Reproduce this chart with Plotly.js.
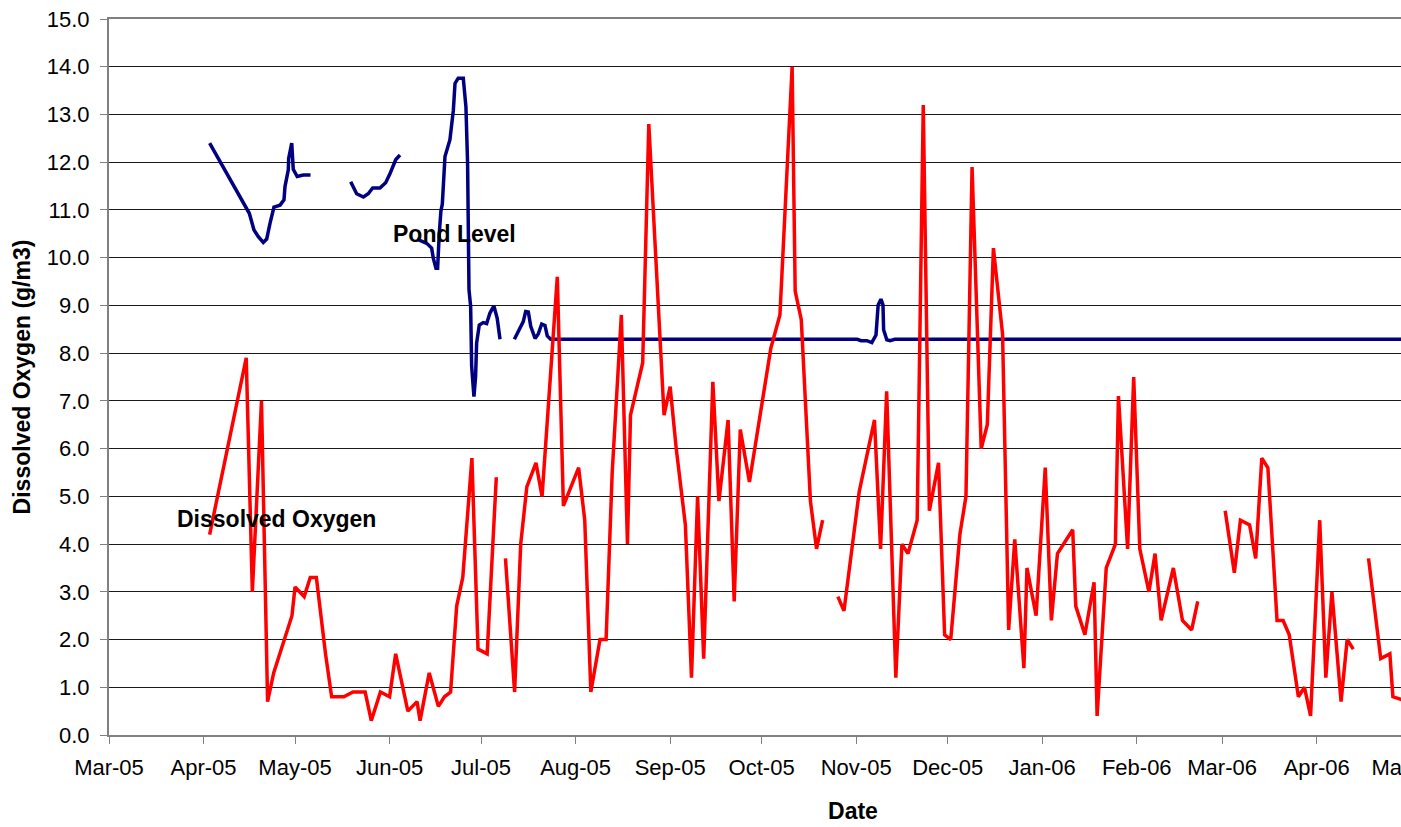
<!DOCTYPE html>
<html>
<head>
<meta charset="utf-8">
<script src="https://cdn.plot.ly/plotly-3.0.1.min.js"></script>
<style>
html, body { margin:0; padding:0; overflow:hidden; background:#fff; }
#chart { width:1620px; height:827px; }
</style>
</head>
<body>
<div id="chart"></div>
<script>
// Dissolved oxygen (g/m3) — null marks a break in the record
const doDates = [
'2005-04-03','2005-04-15','2005-04-17','2005-04-20','2005-04-22','2005-04-24','2005-04-30','2005-05-01','2005-05-04','2005-05-06','2005-05-08','2005-05-11','2005-05-13','2005-05-17','2005-05-20','2005-05-24','2005-05-26','2005-05-29','2005-06-01','2005-06-03','2005-06-07','2005-06-10','2005-06-11','2005-06-14','2005-06-17','2005-06-19','2005-06-21','2005-06-23','2005-06-25','2005-06-28','2005-06-30','2005-07-03','2005-07-06',
'2005-07-07',
'2005-07-09','2005-07-12','2005-07-14','2005-07-16','2005-07-19','2005-07-21','2005-07-26','2005-07-28','2005-08-02','2005-08-04','2005-08-06','2005-08-09','2005-08-11','2005-08-13','2005-08-16','2005-08-18','2005-08-19','2005-08-23','2005-08-25','2005-08-30','2005-09-01','2005-09-03','2005-09-06','2005-09-08','2005-09-10','2005-09-12','2005-09-15','2005-09-17','2005-09-20','2005-09-22','2005-09-24','2005-09-27','2005-09-29','2005-10-04','2005-10-07','2005-10-11','2005-10-12','2005-10-14','2005-10-17','2005-10-19','2005-10-21',
'2005-10-23',
'2005-10-26','2005-10-28','2005-11-02','2005-11-07','2005-11-09','2005-11-11','2005-11-14','2005-11-16','2005-11-18','2005-11-21','2005-11-23','2005-11-25','2005-11-28','2005-11-30','2005-12-02','2005-12-05','2005-12-07','2005-12-09','2005-12-12','2005-12-14','2005-12-16','2005-12-19','2005-12-21','2005-12-23','2005-12-26','2005-12-27','2005-12-30','2006-01-02','2006-01-04','2006-01-06','2006-01-11','2006-01-12','2006-01-15','2006-01-18','2006-01-19','2006-01-22','2006-01-25','2006-01-26','2006-01-29','2006-01-31','2006-02-02','2006-02-05','2006-02-07','2006-02-09','2006-02-13','2006-02-14','2006-02-16','2006-02-19','2006-02-21',
'2006-02-25',
'2006-03-02','2006-03-05','2006-03-07','2006-03-10','2006-03-12','2006-03-14','2006-03-16','2006-03-19','2006-03-21','2006-03-23','2006-03-26','2006-03-28','2006-03-30','2006-04-02','2006-04-04','2006-04-06','2006-04-09','2006-04-11','2006-04-13',
'2006-04-15',
'2006-04-18','2006-04-22','2006-04-25','2006-04-26','2006-04-30'
];
const doValues = [
4.2,7.9,3.0,7.0,0.7,1.3,2.5,3.1,2.9,3.3,3.3,1.7,0.8,0.8,0.9,0.9,0.3,0.9,0.8,1.7,0.5,0.7,0.3,1.3,0.6,0.8,0.9,2.7,3.3,5.8,1.8,1.7,5.4,
null,
3.7,0.9,4.0,5.2,5.7,5.0,9.6,4.8,5.6,4.5,0.9,2.0,2.0,5.5,8.8,4.0,6.7,7.8,12.8,6.7,7.3,6.0,4.4,1.2,5.0,1.6,7.4,4.9,6.6,2.8,6.4,5.3,6.1,8.1,8.8,14.0,9.3,8.7,4.9,3.9,4.5,
null,
2.9,2.6,5.1,6.6,3.9,7.2,1.2,4.0,3.8,4.5,13.2,4.7,5.7,2.1,2.0,4.2,5.0,11.9,6.0,6.5,10.2,8.4,2.2,4.1,1.4,3.5,2.5,5.6,2.4,3.8,4.3,2.7,2.1,3.2,0.4,3.5,4.0,7.1,3.9,7.5,3.9,3.0,3.8,2.4,3.5,3.1,2.4,2.2,2.8,
null,
4.7,3.4,4.5,4.4,3.7,5.8,5.6,2.4,2.4,2.1,0.8,1.0,0.4,4.5,1.2,3.0,0.7,2.0,1.8,
null,
3.7,1.6,1.7,0.8,0.72
];

// Pond level (plotted on the same scale)
const levelDates = [
'2005-04-03 00:00','2005-04-15 04:00','2005-04-16 00:00','2005-04-17 13:00','2005-04-18 23:00','2005-04-20 14:00','2005-04-21 17:00','2005-04-22 19:00','2005-04-24 02:00','2005-04-26 02:00','2005-04-27 09:00','2005-04-27 17:00','2005-04-28 19:00','2005-04-28 22:00','2005-04-29 22:00','2005-04-30 10:00','2005-05-01 17:00','2005-05-03 17:00','2005-05-06 02:00',
'2005-05-12 00:00',
'2005-05-19 06:00','2005-05-21 05:00','2005-05-23 10:00','2005-05-25 00:00','2005-05-26 11:00','2005-05-28 20:00','2005-05-30 17:00','2005-06-01 02:00','2005-06-03 00:00','2005-06-04 10:00',
'2005-06-07 00:00',
'2005-06-10 00:00','2005-06-13 05:00','2005-06-14 19:00','2005-06-15 08:00','2005-06-16 05:00','2005-06-16 18:00','2005-06-17 07:00','2005-06-17 20:00','2005-06-18 07:00','2005-06-18 14:00','2005-06-19 04:00','2005-06-20 19:00','2005-06-21 22:00','2005-06-22 11:00','2005-06-23 12:00','2005-06-25 04:00','2005-06-26 01:00','2005-06-26 14:00','2005-06-27 01:00','2005-06-27 14:00','2005-06-27 22:00','2005-06-28 16:00','2005-06-29 05:00','2005-06-29 13:00','2005-06-30 10:00','2005-07-01 17:00','2005-07-02 20:00','2005-07-03 22:00','2005-07-05 05:00','2005-07-06 07:00','2005-07-07 05:00',
'2005-07-09 12:00',
'2005-07-11 22:00','2005-07-14 20:00','2005-07-15 15:00','2005-07-16 12:00','2005-07-17 07:00','2005-07-18 17:00','2005-07-19 18:00','2005-07-20 21:00','2005-07-21 23:00','2005-07-22 17:00','2005-07-23 20:00','2005-11-01 08:00','2005-11-02 15:00','2005-11-04 12:00','2005-11-06 03:00','2005-11-07 12:00','2005-11-08 05:00','2005-11-09 03:00','2005-11-09 19:00','2005-11-10 00:00','2005-11-11 01:00','2005-11-12 03:00','2005-11-13 16:00','2006-05-01 00:00'
];
const levelValues = [
12.40,11.04,10.93,10.58,10.44,10.32,10.39,10.72,11.06,11.10,11.21,11.49,11.84,12.08,12.40,11.85,11.70,11.73,11.73,
null,
11.59,11.34,11.27,11.34,11.46,11.46,11.57,11.75,12.05,12.15,
null,
10.39,10.30,10.20,9.99,9.78,9.78,10.50,10.98,11.12,11.49,12.12,12.47,13.09,13.65,13.76,13.76,13.16,11.98,9.33,8.98,7.72,7.09,7.51,8.21,8.59,8.64,8.62,8.84,8.99,8.73,8.29,
null,
8.29,8.66,8.87,8.86,8.56,8.31,8.40,8.61,8.58,8.36,8.29,8.29,8.26,8.26,8.22,8.38,9.01,9.13,9.01,8.49,8.28,8.26,8.29,8.29
];

const FONT = '"Liberation Sans", Arial, sans-serif';

const traces = [
  { x: levelDates, y: levelValues, type: 'scatter', mode: 'lines', name: 'Pond Level',
    connectgaps: false, line: { color: '#000080', width: 3.5 } },
  { x: doDates, y: doValues, type: 'scatter', mode: 'lines', name: 'Dissolved Oxygen',
    connectgaps: false, line: { color: '#FF0000', width: 3.5 } }
];

const layout = {
  width: 1620, height: 827,
  margin: { l: 109, r: 23, t: 19, b: 91.5 },
  paper_bgcolor: '#ffffff', plot_bgcolor: '#ffffff',
  showlegend: false,
  font: { family: FONT, size: 22, color: '#000' },
  xaxis: {
    type: 'date',
    range: ['2005-03-01', '2006-07-01 22:00'],
    tick0: '2005-03-01', dtick: 'M1', tickformat: '%b-%y',
    ticks: 'outside', ticklen: 7, tickwidth: 1, tickcolor: '#808080',
    showgrid: false, zeroline: false,
    showline: true, linecolor: '#808080', linewidth: 2, mirror: true,
    tickfont: { family: FONT, size: 22, color: '#000' },
    ticklabelstandoff: 5,
    title: { text: 'Date', font: { family: FONT, size: 23, color: '#000', weight: 'bold' }, standoff: 23 }
  },
  yaxis: {
    range: [0, 15], dtick: 1, tick0: 0, tickformat: '.1f',
    ticks: 'outside', ticklen: 7, tickwidth: 1, tickcolor: '#808080',
    showgrid: true, gridcolor: '#1a1a1a', gridwidth: 1,
    zeroline: false,
    showline: true, linecolor: '#808080', linewidth: 2, mirror: true,
    tickfont: { family: FONT, size: 22, color: '#000' },
    ticklabelstandoff: 6,
    title: { text: 'Dissolved Oxygen (g/m3)', font: { family: FONT, size: 23, color: '#000', weight: 'bold' }, standoff: 10 }
  },
  annotations: [
    { x: '2005-06-22 10:00', y: 10.5, xref: 'x', yref: 'y', text: 'Pond Level', showarrow: false,
      font: { family: FONT, size: 23, color: '#000', weight: 'bold' }, xanchor: 'center', yanchor: 'middle' },
    { x: '2005-04-24 22:00', y: 4.53, xref: 'x', yref: 'y', text: 'Dissolved Oxygen', showarrow: false,
      font: { family: FONT, size: 23, color: '#000', weight: 'bold' }, xanchor: 'center', yanchor: 'middle' }
  ]
};

Plotly.newPlot('chart', traces, layout, { staticPlot: true, displayModeBar: false });
</script>
</body>
</html>
